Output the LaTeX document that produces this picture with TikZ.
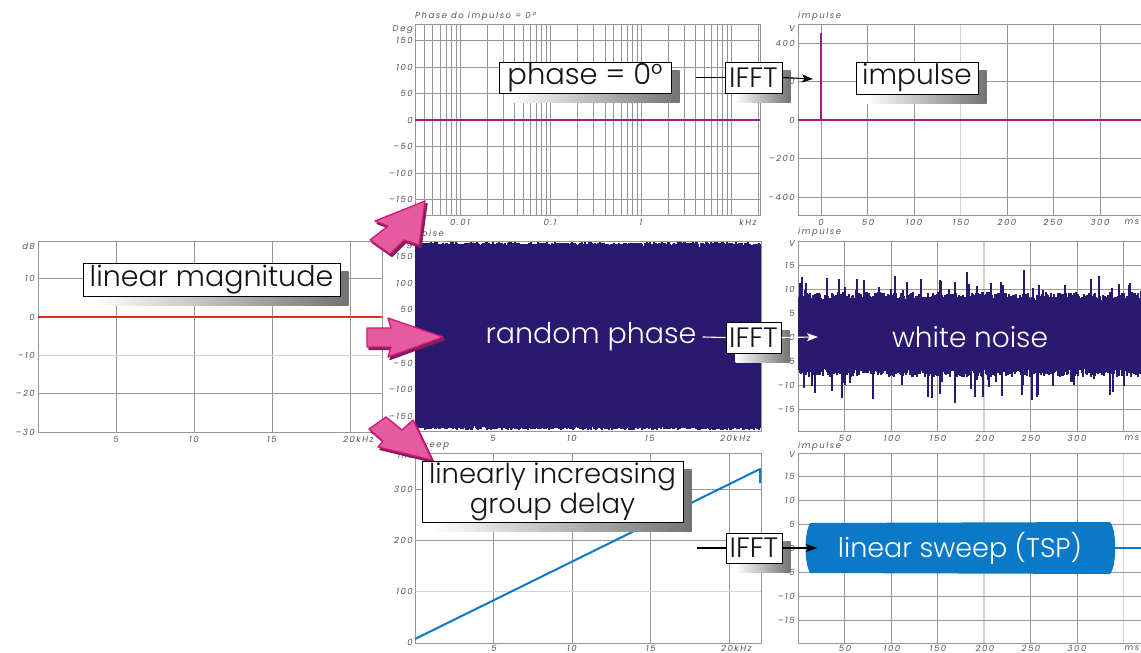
\documentclass[tikz,border=0pt]{standalone}
\usepackage{fontspec}
\setmainfont{Poppins}
\newfontfamily\lightf{Poppins Light}
\newfontfamily\tickf[LetterSpace=18]{Poppins}
\usetikzlibrary{arrows.meta,calc}
\definecolor{navy}{RGB}{42,25,112}
\definecolor{sweepblue}{RGB}{10,122,200}
\definecolor{magline}{RGB}{156,32,128}
\definecolor{dbred}{RGB}{222,45,38}
\definecolor{pinkfill}{RGB}{228,92,158}
\definecolor{pinkedge}{RGB}{214,20,124}
\definecolor{maroon}{RGB}{130,30,90}
\definecolor{gridc}{RGB}{150,150,150}
\definecolor{gridl}{RGB}{210,210,210}
\definecolor{labc}{RGB}{85,85,85}
\pgfdeclarelayer{shadows}
\pgfdeclarelayer{front}
\pgfsetlayers{main,shadows,front}
\tikzset{
  tick/.style={font=\tickf\itshape\fontsize{8.5}{9}\selectfont,text=labc,inner sep=0pt},
  ytick/.style={tick,anchor=east},
  xtick/.style={tick,anchor=center},
  ttl/.style={tick,anchor=west},
  gridline/.style={draw=gridc,line width=0.6pt},
  gridlight/.style={draw=gridl,line width=1.4pt},
  frame/.style={draw=gridc,line width=0.8pt},
  labelbox/.style={draw=black,fill=white,line width=1pt,inner sep=0pt,text=black!92},
  onplot/.style={text=white,inner sep=0pt},
  pinkarrow/.style={fill=pinkfill,draw=pinkedge,line width=1.3pt,line join=round},
  arrowshadow/.style={fill=maroon,draw=maroon,line width=1.3pt,line join=round},
  conn/.style={line width=1.1pt},
  tipped/.style={-{Stealth[length=11pt,width=8pt,inset=2.5pt]}},
  big/.style={font=\lightf\fontsize{#1}{30}\selectfont},
}
\newcommand\boxshadow[1]{%
  \begin{pgfonlayer}{shadows}
    \shade[left color=white,right color=black!55]
      ($(#1.south west)+(10,9)$) rectangle ($(#1.north east)+(8,9)$);
  \end{pgfonlayer}}
\begin{document}
\begin{tikzpicture}[x=1pt,y=-1pt]
\useasboundingbox (0,0) rectangle (1141,653);
\fill[white] (0,0) rectangle (1141,653);
\pgfmathsetseed{7}

% ---------------- Panel A: magnitude (dB)
\draw[gridline] \foreach \x in {116,194,272,350}{(\x,241)--(\x,432)};
\draw[gridline] \foreach \y in {278.7,317,393.6}{(38,\y)--(382,\y)};
\draw[gridlight] (38,355.3)--(382,355.3);
\draw[frame] (38,241) rectangle (382,432);
\draw[dbred,line width=2pt] (38,317)--(382,317);
\foreach \v/\y [count=\i] in {10/278.7,0/317,–10/355.3,–20/393.6,–30/432}{\node[ytick] (A-y\i) at (35,\y) {\v};}
\node[ytick] (A-unit) at (35,246) {dB};
\foreach \v/\x [count=\i] in {5/116,10/194,15/272}{\node[xtick] (A-x\i) at (\x,439) {\v};}
\node[tick,anchor=west] (A-x4) at (343,439) {20\,kHz};

% ---------------- Panel B: phase = 0 (log axis)
\begin{scope}
\clip (415,24) rectangle (760,215);
\foreach \d in {-3,...,1}{\foreach \k in {1,...,9}{
  \pgfmathsetmacro\xx{641+90.5*(\d+log10(\k))}
  \draw[gridline] (\xx,24)--(\xx,215);}}
\end{scope}
\draw[gridline] \foreach \y in {40.5,67,93.5,146.5,173,199.5}{(415,\y)--(760,\y)};
\draw[frame] (415,24) rectangle (760,215);
\draw[magline,line width=2pt] (415,120)--(760,120);
\foreach \v/\y [count=\i] in {150/40.5,100/67,50/93.5,0/120,–50/146.5,–100/173,–150/199.5}{\node[ytick] (B-y\i) at (413,\y) {\v};}
\node[ytick] (B-unit) at (413,30) {Deg};
\foreach \v/\x [count=\i] in {0.01/460,0.1/550,1/641,kHz/748}{\node[xtick] (B-x\i) at (\x,222) {\v};}
\node[ttl] (B-title) at (415,16) {Phase do impulso = 0°};

% ---------------- Panel C: impulse
\draw[gridline] \foreach \x in {821,867.5,914,1007,1053.5,1100}{(\x,24)--(\x,215)};
\draw[gridlight] (960.5,24)--(960.5,215);
\draw[gridline] \foreach \y in {43,81.5,158.5,197}{(798,\y)--(1141,\y)};
\draw[frame] (798,24) rectangle (1146,215);
\draw[magline,line width=2pt] (798,120)--(1141,120);
\draw[magline,line width=2.2pt] (821,120)--(821,33);
\foreach \v/\y [count=\i] in {400/43,200/81.5,0/120,–200/158.5,–400/197}{\node[ytick] (C-y\i) at (795,\y) {\v};}
\node[ytick] (C-unit) at (795,29) {V};
\foreach \v/\x [count=\i] in {0/821,50/868,100/914,150/961,200/1007,250/1053,300/1100,ms/1132}{\node[xtick] (C-x\i) at (\x,222) {\v};}
\node[ttl] (C-title) at (798,16) {impulse};

% ---------------- Panel D: random phase
\draw[frame] (415,241) rectangle (761,431);
\foreach \x in {416,...,760}{
  \pgfmathsetmacro\ta{242+2.5*rnd+13*(rnd>0.6)*rnd*rnd*rnd}
  \pgfmathsetmacro\tb{430-2.5*rnd-16*(rnd>0.65)*rnd*rnd*rnd}
  \draw[navy,line width=1.15pt] (\x,\ta)--(\x,\tb);}
\foreach \v/\y [count=\i] in {150/256,100/283,50/309,0/336,–50/363,–100/389,–150/416}{\node[ytick] (D-y\i) at (413,\y) {\v};}
\node[ytick] (D-unit) at (413,245) {Deg};
\foreach \v/\x [count=\i] in {5/493,10/572,15/650}{\node[xtick] (D-x\i) at (\x,438) {\v};}
\node[tick,anchor=west] (D-x4) at (720,438) {20\,kHz};
\node[ttl] (D-title) at (415,233) {noise};

% ---------------- Panel E: white noise
\draw[gridline] \foreach \x in {844.5,891,937.5,1030.5,1077,1123.5}{(\x,241)--(\x,431)};
\draw[gridlight] (984,241)--(984,431);
\draw[gridline] \foreach \y in {265,289,313,337,361,385,409}{(798,\y)--(1141,\y)};
\draw[frame] (798,241) rectangle (1146,431);
\foreach \x in {799,...,1141}{
  \pgfmathsetmacro\ta{337-4.8*(7.6+1.8*rnd+5*(rnd>0.86)*rnd)}
  \pgfmathsetmacro\tb{337+4.8*(6.6+1.8*rnd+5.5*(rnd>0.86)*rnd)}
  \draw[navy,line width=1.1pt] (\x,\ta)--(\x,\tb);}
\foreach \v/\y [count=\i] in {15/265,10/289,5/313,0/337,–5/361,–10/385,–15/409}{\node[ytick] (E-y\i) at (795,\y) {\v};}
\node[ytick] (E-unit) at (795,244) {V};
\foreach \v/\x [count=\i] in {50/845,100/892,150/938,200/985,250/1031,300/1077,ms/1132}{\node[xtick] (E-x\i) at (\x,438) {\v};}
\node[ttl] (E-title) at (798,232) {impulse};

% ---------------- Panel F: group delay (sweep)
\draw[gridline] \foreach \x in {493.5,572,650.5,729}{(\x,453)--(\x,643)};
\draw[gridline] \foreach \y in {489,540.4}{(415,\y)--(761,\y)};
\draw[gridlight] (415,591.7)--(761,591.7);
\draw[frame] (415,453) rectangle (761,643);
\draw[sweepblue,line width=2pt,line join=round] (415,639)--(760,469)--(760,483);
\foreach \v/\y [count=\i] in {300/489,200/540.4,100/591.7,0/642}{\node[ytick] (F-y\i) at (413,\y) {\v};}
\node[ytick] (F-unit) at (413,456) {ms};
\foreach \v/\x [count=\i] in {5/494,10/572,15/651}{\node[xtick] (F-x\i) at (\x,648) {\v};}
\node[tick,anchor=west] (F-x4) at (721,648) {20\,kHz};
\node[ttl] (F-title) at (415,446) {sweep};

% ---------------- Panel G: linear sweep
\draw[gridline] \foreach \x in {844.5,891,937.5,1030.5,1077}{(\x,453)--(\x,643)};
\draw[gridlight] \foreach \x in {984,1123.5}{(\x,453)--(\x,643)};
\draw[gridline] \foreach \y in {476,500,524,548,572,596,620}{(798,\y)--(1141,\y)};
\draw[frame] (798,453) rectangle (1146,643);
\fill[sweepblue] (810,523) -- (1110,522) .. controls (1117,530) and (1117,566) .. (1110,574)
  -- (810,573) .. controls (804,562) and (804,534) .. (810,523);
\draw[sweepblue,line width=1.5pt] (1113,548) -- (1141,548);
\foreach \v/\y [count=\i] in {15/476,10/500,5/524,0/548,–5/572,–10/596,–15/620}{\node[ytick] (G-y\i) at (795,\y) {\v};}
\node[ytick] (G-unit) at (795,455) {V};
\foreach \v/\x [count=\i] in {50/845,100/892,150/938,200/985,250/1031,300/1077,ms/1132}{\node[xtick] (G-x\i) at (\x,648) {\v};}
\node[ttl] (G-title) at (798,446) {impulse};

% ---------------- front: arrows, boxes, connectors
\begin{pgfonlayer}{front}
  \fill[arrowshadow,shift={(2,2.5)}] (425,201)--(375,221)--(388,226)--(370,240)--(390,254)--(404,240)--(419,245)--cycle;
  \filldraw[pinkarrow] (425,201)--(375,221)--(388,226)--(370,240)--(390,254)--(404,240)--(419,245)--cycle;
  \fill[arrowshadow,shift={(2,2.5)}] (443,337)--(388,318)--(391,328)--(367,328)--(367,347)--(391,347)--(388,357)--cycle;
  \filldraw[pinkarrow] (443,337)--(388,318)--(391,328)--(367,328)--(367,347)--(391,347)--(388,357)--cycle;
  \fill[arrowshadow,shift={(2,2.5)}] (432,460)--(413,420)--(402,430)--(386,417)--(369,429)--(383,441)--(378,447)--cycle;
  \filldraw[pinkarrow] (432,460)--(413,420)--(402,430)--(386,417)--(369,429)--(383,441)--(378,447)--cycle;

  \node[labelbox,minimum width=257pt,minimum height=33pt,big=28.5] (lm) at (211.5,279.5) {linear magnitude};
  \node[labelbox,minimum width=172pt,minimum height=31pt,big=29] (ph) at (585,77.5) {phase = 0°};
  \node[labelbox,minimum width=57pt,minimum height=31pt,big=28] (ifft1) at (753.5,77.5) {IFFT};
  \node[labelbox,minimum width=122pt,minimum height=32pt,big=28] (imp) at (917,78) {impulse};
  \node[labelbox,minimum width=55pt,minimum height=31pt,big=28] (ifft2) at (753.5,337.5) {IFFT};
  \node[labelbox,minimum width=56pt,minimum height=30pt,big=28] (ifft3) at (754,548) {IFFT};
  \node[labelbox,minimum width=261pt,minimum height=61pt,align=center,big=27.5] (gd) at (552.5,491.5) {linearly increasing\\group delay};
  \node[onplot,big=28.5] (rp) at (591,337) {random phase};
  \node[onplot,big=28] (wn) at (970,337) {white noise};
  \node[onplot,big=27] (lsw) at (960,548) {linear sweep (TSP)};

  \coordinate (spk) at (813,79);
  \coordinate (wnin) at (818,337);
  \coordinate (gdout) at (697,548);
  \coordinate (lswin) at (817,548);
  \draw[conn] ([xshift=24pt]ph.east) -- (ifft1.west);
  \draw[conn,tipped] (ifft1.east) -- (spk);
  \draw[conn,white] ([xshift=6pt]rp.east) -- (ifft2.west);
  \draw[conn,white,tipped] (ifft2.east) -- (wnin);
  \draw[conn] (gdout) -- (ifft3.west);
  \draw[conn,tipped] (ifft3.east) -- (lswin);
\end{pgfonlayer}
\boxshadow{lm}\boxshadow{ph}\boxshadow{ifft1}\boxshadow{imp}\boxshadow{ifft2}\boxshadow{ifft3}\boxshadow{gd}
\end{tikzpicture}
\end{document}
